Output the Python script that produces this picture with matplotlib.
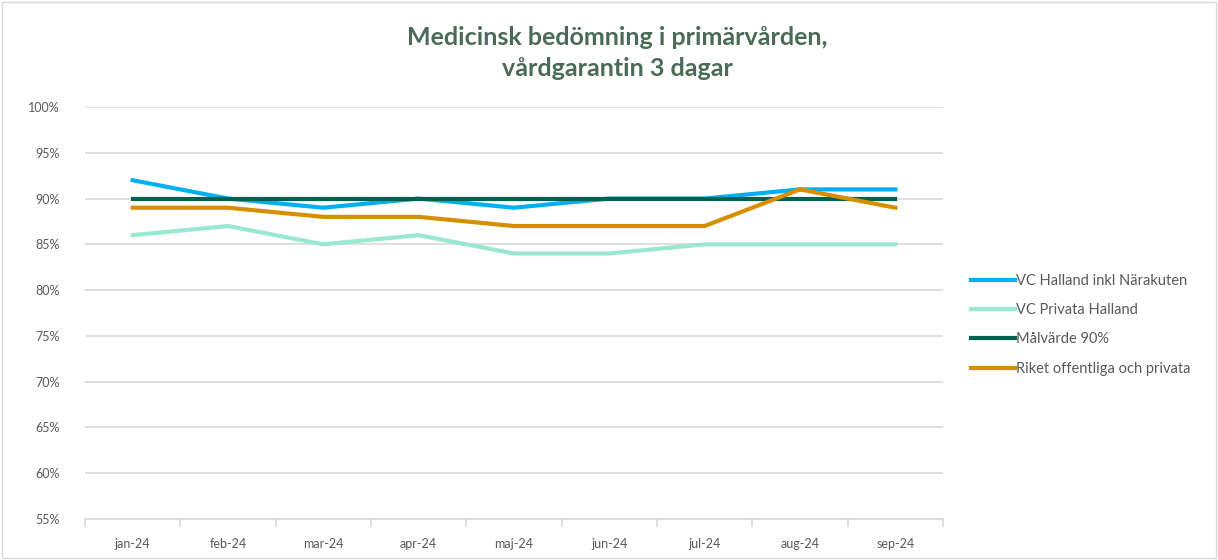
import matplotlib.pyplot as plt
from matplotlib.patches import Rectangle
from matplotlib.ticker import FixedLocator, FuncFormatter

months = ["jan-24", "feb-24", "mar-24", "apr-24", "maj-24", "jun-24", "jul-24", "aug-24", "sep-24"]
vc_halland = [92, 90, 89, 90, 89, 90, 90, 91, 91]
vc_privata = [86, 87, 85, 86, 84, 84, 85, 85, 85]
malvarde = [90, 90, 90, 90, 90, 90, 90, 90, 90]
riket = [89, 89, 88, 88, 87, 87, 87, 91, 89]

plt.rcParams['font.family'] = ['Lato', 'DejaVu Sans']

fig = plt.figure(figsize=(12.18, 5.6), dpi=100)
ax = fig.add_axes([85 / 1218, 41 / 560, (943 - 85) / 1218, (519 - 107) / 560])

x = range(len(months))
ax.plot(x, vc_halland, color="#00B0F0", lw=3, label="VC Halland inkl Närakuten", zorder=3)
ax.plot(x, vc_privata, color="#99E8D2", lw=3, label="VC Privata Halland", zorder=3)
ax.plot(x, malvarde, color="#00614F", lw=3, label="Målvärde 90%", zorder=3)
ax.plot(x, riket, color="#D68F00", lw=3, label="Riket offentliga och privata", zorder=4)

ax.set_xlim(-0.5, len(months) - 0.5)
ax.set_ylim(55, 100)
ax.set_yticks(range(55, 101, 5))
ax.yaxis.set_major_formatter(FuncFormatter(lambda v, p: f"{int(v)}%"))
ax.set_xticks(list(x))
ax.set_xticklabels(months)
ax.xaxis.set_minor_locator(FixedLocator([i - 0.5 for i in range(len(months) + 1)]))
ax.tick_params(axis='x', which='major', length=0, pad=14, labelsize=9, labelcolor="#595959")
ax.tick_params(axis='x', which='minor', length=6, color="#D9D9D9", width=1.2)
ax.tick_params(axis='y', length=0, pad=18, labelsize=9, labelcolor="#595959")

ax.grid(axis='y', color="#D9D9D9", lw=1.2)
ax.set_axisbelow(True)
for s in ["top", "right", "left"]:
    ax.spines[s].set_visible(False)
ax.spines["bottom"].set_color("#D9D9D9")
ax.spines["bottom"].set_linewidth(1.2)

fig.text(0.507, 0.933, "Medicinsk bedömning i primärvården,", ha="center", va="center",
         fontsize=18, fontweight="bold", color="#4A6B57")
fig.text(0.507, 0.877, "vårdgarantin 3 dagar", ha="center", va="center",
         fontsize=18, fontweight="bold", color="#4A6B57")

fig.legend(loc="upper left", bbox_to_anchor=(965 / 1218, 1 - 268 / 560), frameon=False,
           fontsize=10.5, handlelength=3.0, handletextpad=0.1, labelspacing=1.05,
           labelcolor="#595959", borderaxespad=0)

fig.patches.append(Rectangle((2 / 1218, 2 / 560), 1 - 4 / 1218, 1 - 4 / 560, transform=fig.transFigure,
                             fill=False, edgecolor="#D9D9D9", lw=1))

fig.savefig("out.png", dpi=100)
